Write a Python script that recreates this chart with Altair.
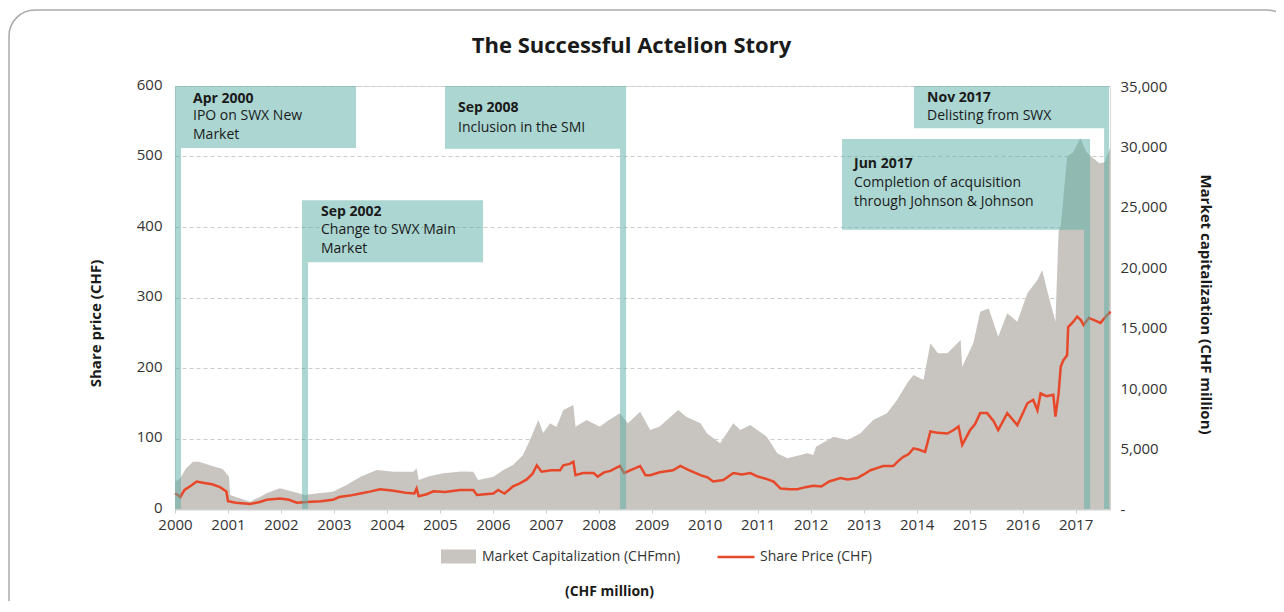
import altair as alt
import pandas as pd

# ---------------- data ----------------
price_years = [2000.00, 2000.05, 2000.10, 2000.18, 2000.30, 2000.41, 2000.55, 2000.70, 2000.85, 2000.97,
               2001.00, 2001.15, 2001.42, 2001.60, 2001.73, 2001.98, 2002.15, 2002.30, 2002.50, 2002.75,
               2002.98, 2003.10, 2003.30, 2003.50, 2003.70, 2003.87, 2004.13, 2004.35, 2004.52, 2004.56,
               2004.60, 2004.75, 2004.88, 2005.10, 2005.38, 2005.63, 2005.70, 2005.85, 2006.01, 2006.10,
               2006.22, 2006.38, 2006.50, 2006.64, 2006.75, 2006.83, 2006.92, 2007.10, 2007.27, 2007.33,
               2007.45, 2007.52, 2007.56, 2007.70, 2007.90, 2007.98, 2008.10, 2008.22, 2008.40, 2008.48,
               2008.60, 2008.78, 2008.88, 2008.97, 2009.15, 2009.40, 2009.54, 2009.70, 2009.92, 2010.05,
               2010.16, 2010.35, 2010.54, 2010.70, 2010.86, 2011.00, 2011.15, 2011.30, 2011.43, 2011.60,
               2011.75, 2011.90, 2012.05, 2012.20, 2012.35, 2012.56, 2012.70, 2012.88, 2013.00, 2013.13,
               2013.25, 2013.37, 2013.56, 2013.65, 2013.75, 2013.85, 2013.94, 2014.05, 2014.16, 2014.26,
               2014.40, 2014.58, 2014.70, 2014.79, 2014.86, 2015.01, 2015.10, 2015.20, 2015.33, 2015.45,
               2015.54, 2015.71, 2015.80, 2015.90, 2016.00, 2016.09, 2016.20, 2016.28, 2016.34, 2016.45,
               2016.58, 2016.62, 2016.68, 2016.72, 2016.77, 2016.84, 2016.86, 2016.95, 2017.03, 2017.10,
               2017.15, 2017.25, 2017.35, 2017.47, 2017.55, 2017.66]
price_values = [22, 20, 17, 27, 33, 39, 37, 35, 31, 25,
                11, 9, 7, 10, 13, 15, 13, 9, 10, 11,
                13, 17, 19, 22, 25, 28, 26, 23, 22, 29,
                18, 21, 25, 24, 27, 27, 20, 21, 22, 27,
                22, 32, 36, 42, 50, 62, 53, 55, 55, 62,
                64, 67, 48, 51, 51, 46, 52, 54, 61, 51,
                55, 61, 48, 48, 52, 55, 61, 55, 48, 45,
                39, 41, 51, 49, 51, 46, 43, 39, 29, 28,
                28, 31, 33, 32, 39, 44, 42, 44, 49, 55,
                58, 61, 61, 68, 74, 78, 86, 84, 81, 110,
                108, 107, 112, 117, 91, 112, 120, 136, 136, 125,
                112, 136, 128, 119, 135, 150, 155, 140, 164, 160,
                162, 131, 164, 202, 211, 218, 258, 265, 273, 268,
                261, 271, 268, 264, 271, 280]

cap_years = [2000.00, 2000.10, 2000.20, 2000.34, 2000.45, 2000.60, 2000.75, 2000.90, 2001.02, 2001.04,
             2001.20, 2001.42, 2001.60, 2001.73, 2001.98, 2002.23, 2002.45, 2002.70, 2002.98, 2003.24,
             2003.50, 2003.81, 2004.13, 2004.50, 2004.56, 2004.60, 2004.80, 2005.07, 2005.40, 2005.63,
             2005.72, 2006.01, 2006.20, 2006.38, 2006.57, 2006.70, 2006.86, 2006.95, 2007.08, 2007.20,
             2007.33, 2007.52, 2007.56, 2007.77, 2008.02, 2008.15, 2008.40, 2008.55, 2008.78, 2008.97,
             2009.15, 2009.50, 2009.65, 2009.92, 2010.04, 2010.29, 2010.54, 2010.67, 2010.86, 2011.17,
             2011.37, 2011.56, 2011.94, 2012.05, 2012.10, 2012.43, 2012.70, 2012.94, 2013.18, 2013.44,
             2013.63, 2013.82, 2013.94, 2014.13, 2014.26, 2014.40, 2014.58, 2014.83, 2014.86, 2015.07,
             2015.20, 2015.36, 2015.54, 2015.71, 2015.90, 2016.09, 2016.28, 2016.37, 2016.47, 2016.62,
             2016.68, 2016.72, 2016.84, 2016.95, 2017.09, 2017.20, 2017.30, 2017.45, 2017.55, 2017.66]
cap_values = [2260, 2540, 3300, 3910, 3900, 3700, 3500, 3300, 2670, 1160,
              900, 600, 1000, 1300, 1710, 1430, 1160, 1300, 1430, 1990,
              2670, 3230, 3090, 3090, 3370, 2400, 2700, 2950, 3100, 3090,
              2400, 2670, 3230, 3640, 4470, 5710, 7360, 6290, 7090, 6780,
              8190, 8600, 6810, 7360, 6810, 7230, 7920, 7090, 8050, 6540,
              6820, 8190, 7640, 7090, 6260, 5440, 7090, 6540, 6950, 5980,
              4610, 4190, 4610, 4470, 5160, 5980, 5710, 6260, 7360, 7920,
              9020, 10400, 11090, 10670, 13710, 12880, 12880, 13980, 11770, 13710,
              16330, 16600, 14260, 16190, 15500, 17850, 18950, 19780, 17980, 15500,
              23000, 23350, 29150, 29500, 30670, 29560, 29150, 28600, 28700, 29960]

ann_dates = ["Apr 2000", "Sep 2002", "Sep 2008", "Jun 2017", "Nov 2017"]
ann_texts = ["IPO on SWX New\nMarket", "Change to SWX Main\nMarket", "Inclusion in the SMI",
             "Completion of acquisition\nthrough Johnson & Johnson", "Delisting from SWX"]
ann_box_x0 = [2000.113, 2002.398, 2005.097, 2012.592, 2013.951]
ann_box_x1 = [2003.417, 2005.815, 2008.401, 2017.274, 2017.633]
ann_box_y0 = [512, 350, 511, 396, 540]
ann_box_y1 = [600, 438, 600, 525, 600]
ann_bar_x0 = [2000.0, 2002.398, 2008.401, 2017.161, 2017.539]
ann_bar_x1 = [2000.113, 2002.511, 2008.515, 2017.274, 2017.633]
ann_bar_top = [600, 350, 600, 396, 540]
ann_text_x = [2000.34, 2002.756, 2005.343, 2012.818, 2014.197]
ann_title_y = [591, 431, 578.5, 499, 593]
ann_body_y = [567, 405.5, 550, 472, 567]

x_ticks = list(range(2000, 2018))
price_ticks = [0, 100, 200, 300, 400, 500, 600]
cap_ticks = [0, 5000, 10000, 15000, 20000, 25000, 30000, 35000]

CAP_NAME = "Market Capitalization (CHFmn)"
PRICE_NAME = "Share Price (CHF)"

# ---------------- style ----------------
FONT = "Open Sans"
GREY = "#c8c4bf"
RED = "#e8482a"
TEAL = "#58ada6"
TXT = "#1a1a1a"
LAB = "#333333"

price_df = pd.DataFrame({"year": price_years, "price": price_values, "series": PRICE_NAME})
cap_df = pd.DataFrame({"year": cap_years, "cap": cap_values, "series": CAP_NAME})
ann_df = pd.DataFrame({
    "date": ann_dates, "body": ann_texts,
    "bx0": ann_box_x0, "bx1": ann_box_x1, "by0": ann_box_y0, "by1": ann_box_y1,
    "rx0": ann_bar_x0, "rx1": ann_bar_x1, "rtop": ann_bar_top,
    "tx": ann_text_x, "ty": ann_title_y, "by": ann_body_y,
})

xscale = alt.Scale(domain=[2000, 2017.65], nice=False, zero=False)
pscale = alt.Scale(domain=[0, 600], nice=False)

x_axis = alt.Axis(values=x_ticks, format="d", grid=False, domain=True, domainColor="#cfcfcf",
                  domainWidth=2, ticks=True, tickColor="#cfcfcf", tickSize=4, labelPadding=4,
                  labelFont=FONT, labelFontSize=15, labelColor=LAB, labelFlush=False,
                  titleFont=FONT, titleFontSize=14, titleFontWeight="bold",
                  titleColor=TXT, titleX=434, titleY=82, titleAlign="center", titleBaseline="middle")

p_axis = alt.Axis(orient="left", values=price_ticks, grid=True, gridColor="#cccccc",
                  gridDash=[4, 3], gridWidth=1, domain=False, ticks=False, labelPadding=13,
                  labelOffset=-2,
                  labelFont=FONT, labelFontSize=15, labelColor=LAB,
                  titleFont=FONT, titleFontSize=15, titleFontWeight="bold",
                  titleColor=TXT, titleAngle=-90, titleX=-80, titleY=237, titleAlign="center",
                  titleBaseline="middle")

area = alt.Chart(cap_df).mark_area(opacity=1).encode(
    x=alt.X("year:Q", scale=xscale, axis=x_axis, title="(CHF million)"),
    y=alt.Y("cap:Q", scale=alt.Scale(domain=[0, 35000], nice=False), title="Market capitalization (CHF million)",
            axis=alt.Axis(orient="right", values=cap_ticks, grid=False, domain=False, ticks=False,
                          labelPadding=10, labelFont=FONT, labelFontSize=15, labelColor=LAB,
                          labelExpr="datum.value === 0 ? '-' : format(datum.value, ',')",
                          titleFont=FONT, titleFontSize=15,
                          titleFontWeight="bold", titleColor=TXT, titleAngle=90, titleX=95, titleY=218,
                          titleAlign="center", titleBaseline="middle")),
    fill=alt.Fill("series:N", scale=alt.Scale(domain=[CAP_NAME], range=[GREY]),
                  legend=alt.Legend(orient="none", legendX=266, legendY=453, title=None, padding=0,
                                    symbolType="M-1,-0.4H1V0.4H-1Z", symbolSize=1225, symbolStrokeWidth=0,
                                    labelFont=FONT, labelFontSize=14, labelColor=LAB, labelOffset=6,
                                    labelLimit=400)),
)

line = alt.Chart(price_df).mark_line(strokeWidth=2.5).encode(
    x=alt.X("year:Q", scale=xscale, title="(CHF million)"),
    y=alt.Y("price:Q", scale=pscale, axis=p_axis, title="Share price (CHF)"),
    stroke=alt.Stroke("series:N", scale=alt.Scale(domain=[PRICE_NAME], range=[RED]),
                      legend=alt.Legend(orient="none", legendX=541, legendY=451, title=None, padding=0,
                                        symbolType="stroke", symbolSize=1369, symbolStrokeWidth=2.5,
                                        labelFont=FONT, labelFontSize=14, labelColor=LAB, labelOffset=4,
                                        labelLimit=400)),
)

bars = alt.Chart(ann_df).mark_rect(color=TEAL, opacity=0.5).encode(
    x=alt.X("rx0:Q", scale=xscale, title="(CHF million)"), x2="rx1:Q",
    y=alt.Y("rtop:Q", scale=pscale, title="Share price (CHF)"), y2=alt.datum(0),
)

boxes = alt.Chart(ann_df).mark_rect(color=TEAL, opacity=0.5).encode(
    x=alt.X("bx0:Q", scale=xscale, title="(CHF million)"), x2="bx1:Q",
    y=alt.Y("by0:Q", scale=pscale, title="Share price (CHF)"), y2="by1:Q",
)

titles = alt.Chart(ann_df).mark_text(align="left", baseline="top", font=FONT, fontSize=14,
                                     fontWeight="bold", color=TXT).encode(
    x=alt.X("tx:Q", scale=xscale, title="(CHF million)"),
    y=alt.Y("ty:Q", scale=pscale, title="Share price (CHF)"),
    text="date:N",
)

bodies = alt.Chart(ann_df).mark_text(align="left", baseline="top", font=FONT, fontSize=14,
                                     lineBreak="\n", lineHeight=19, color=TXT).encode(
    x=alt.X("tx:Q", scale=xscale, title="(CHF million)"),
    y=alt.Y("by:Q", scale=pscale, title="Share price (CHF)"),
    text="body:N",
)

frame = alt.Chart(pd.DataFrame({"k": [0]})).mark_rect(
    filled=False, stroke="#a9a9a9", strokeWidth=1.5, cornerRadius=26
).encode(x=alt.value(-166), x2=alt.value(1118), y=alt.value(-76), y2=alt.value(600))

left_group = alt.layer(line, bars, boxes, titles, bodies, frame)

chart = alt.layer(area, left_group).resolve_scale(
    y="independent", fill="independent", stroke="independent"
).properties(
    width=935, height=423,
    autosize=alt.AutoSizeParams(type="none"),
    padding={"left": 167, "top": 78, "right": 166, "bottom": 92},
    title=alt.TitleParams("The Successful Actelion Story", font=FONT, fontSize=22, fontWeight="bold",
                          color=TXT, anchor="middle", frame="group", dx=-11, offset=-49),
).configure_view(stroke=None).configure(background="white")

chart.save("out.html", embed_options={"renderer": "svg", "actions": False})
